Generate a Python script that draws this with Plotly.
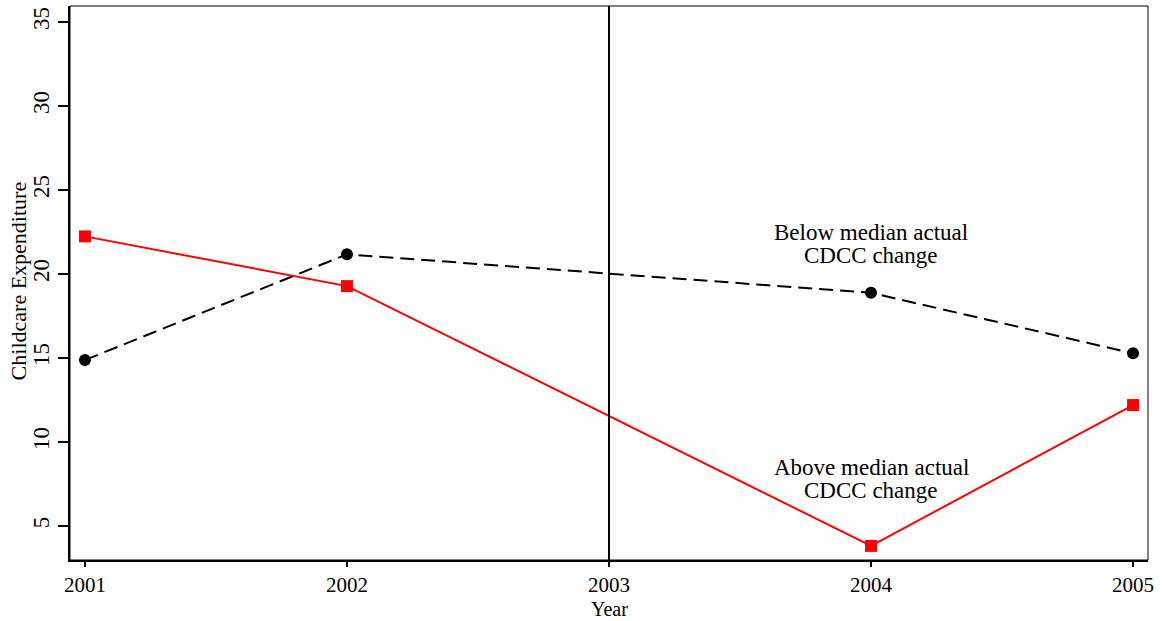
import plotly.graph_objects as go

years = [2001, 2002, 2004, 2005]
below_median = [14.88, 21.17, 18.88, 15.28]
above_median = [22.24, 19.28, 3.82, 12.2]
x_ticks = [2001, 2002, 2003, 2004, 2005]
y_ticks = [5, 10, 15, 20, 25, 30, 35]
policy_year = 2003

font_family = "Liberation Serif, Times New Roman, serif"
black = "black"
red = "#ff0000"

fig = go.Figure()

fig.add_trace(go.Scatter(
    x=years, y=below_median, mode="lines+markers",
    line=dict(color=black, width=2, dash="14px,7px"),
    marker=dict(symbol="circle", size=12, color=black),
    showlegend=False,
))
fig.add_trace(go.Scatter(
    x=years, y=above_median, mode="lines+markers",
    line=dict(color=red, width=2),
    marker=dict(symbol="square", size=12, color=red),
    showlegend=False,
))

# reform year marker
fig.add_shape(type="line", xref="x", yref="paper", x0=policy_year, x1=policy_year,
              y0=0, y1=1, line=dict(color=black, width=2))
# thin frame around plot area
fig.add_shape(type="rect", xref="paper", yref="paper", x0=0, x1=1, y0=0, y1=1,
              line=dict(color=black, width=1))

# group labels, one annotation per line for tight spacing
label_font = dict(family=font_family, size=23, color=black)
for text, yv in [("Below median actual", 22.45), ("CDCC change", 21.08),
                 ("Above median actual", 8.47), ("CDCC change", 7.1)]:
    fig.add_annotation(x=2004, y=yv, text=text, showarrow=False, font=label_font,
                       xanchor="center", yanchor="middle")

# axis titles
fig.add_annotation(xref="paper", yref="paper", x=0.5, y=-0.1101, text="Year",
                   showarrow=False, font=dict(family=font_family, size=20, color=black),
                   xanchor="center", yanchor="bottom", borderpad=0)
fig.add_annotation(xref="paper", yref="paper", x=-0.0482, y=0.503,
                   text="Childcare Expenditure", textangle=-90, showarrow=False,
                   font=dict(family=font_family, size=22, color=black),
                   xanchor="center", yanchor="middle")

fig.update_layout(
    width=1166, height=621,
    margin=dict(l=70, r=18, t=6, b=61),
    paper_bgcolor="white", plot_bgcolor="white",
    font=dict(family=font_family, size=22, color=black),
    xaxis=dict(
        range=[2000.943, 2005.057], tickvals=x_ticks, ticktext=[str(v) for v in x_ticks],
        showgrid=False, zeroline=False, showline=True, linecolor=black, linewidth=2,
        ticks="outside", ticklen=5, tickwidth=2, tickcolor=black,
        tickfont=dict(size=21),
    ),
    yaxis=dict(
        range=[2.98, 35.95], tickvals=y_ticks, tickangle=-90,
        showgrid=False, zeroline=False, showline=True, linecolor=black, linewidth=2,
        ticks="outside", ticklen=10, tickwidth=2, tickcolor=black,
        tickfont=dict(size=23),
    ),
)

fig.write_html("out.html")
